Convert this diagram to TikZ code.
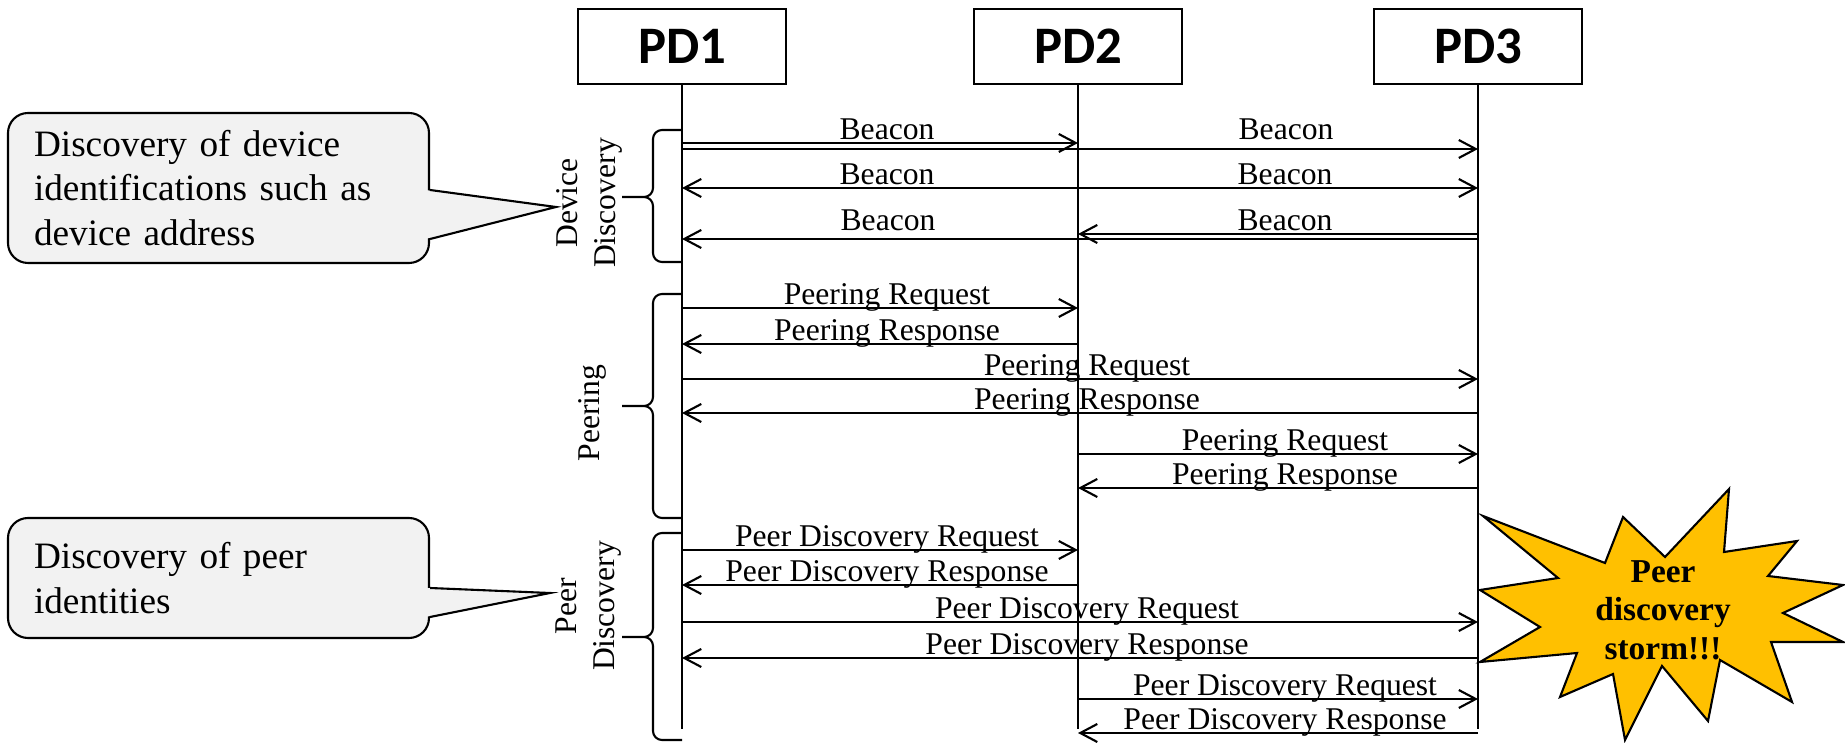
\documentclass[tikz,border=0pt]{standalone}
\usepackage{fontspec}
\setmainfont{Liberation Serif}
\newfontfamily\pdfont{Carlito}
\usetikzlibrary{positioning,arrows.meta,calc}
\definecolor{bullegris}{RGB}{242,242,242}
\definecolor{orage}{RGB}{255,192,0}
\tikzset{
  >={Straight Barb[length=1.7mm, width=1.8mm]},
  appareil/.style={draw, line width=0.65pt, fill=white, minimum width=2.08cm, minimum height=0.75cm,
    inner sep=0pt, font=\pdfont\fontsize{15}{18}\selectfont\bfseries},
  vie/.style={line width=0.6pt},
  fleche/.style={->, line width=0.6pt},
  etiquette/.style={anchor=base, inner sep=0pt, xshift=2pt, yshift=1pt, font=\fontsize{9}{10.8}\selectfont},
  phase/.style={rotate=90, align=center, inner sep=0pt, font=\fontsize{9}{10.8}\selectfont},
  accolade/.style={line width=0.6pt, rounded corners=0.09cm},
  bulle/.style={draw, line width=0.6pt, fill=bullegris, rounded corners=0.2cm, align=left,
    inner xsep=0.26cm, inner ysep=0pt, text width=3.69cm, font=\fontsize{10.6}{12.7}\selectfont},
  etoile/.style={draw, line width=0.6pt, fill=orage},
}

\begin{document}
\begin{tikzpicture}
    \useasboundingbox (0,0) rectangle (18.45,-7.43);
    % Appareils et lignes de vie
    \node[appareil] (pd1) at (6.82,-0.465)  {PD1};
    \node[appareil] (pd2) at (10.78,-0.465) {PD2};
    \node[appareil] (pd3) at (14.78,-0.465) {PD3};
    \coordinate (fin1) at (6.82,-7.29);
    \coordinate (fin2) at (10.78,-7.29);
    \coordinate (fin3) at (14.78,-7.29);
    \draw[vie] (pd1) -- (fin1);
    \draw[vie] (pd2) -- (fin2);
    \draw[vie] (pd3) -- (fin3);
    % Device Discovery
    \draw[fleche] (pd1 |- 0,-1.43) -- node[etiquette] {Beacon} (pd2 |- 0,-1.43);
    \draw[fleche] (pd1 |- 0,-1.49) -- node[etiquette, pos=0.75, yshift=1.6pt] {Beacon} (pd3 |- 0,-1.49);
    \draw[fleche] (pd2 |- 0,-1.88) -- node[etiquette] {Beacon} (pd1 |- 0,-1.88);
    \draw[fleche] (pd2 |- 0,-1.88) -- node[etiquette] {Beacon} (pd3 |- 0,-1.88);
    \draw[fleche] (pd3 |- 0,-2.34) -- node[etiquette] {Beacon} (pd2 |- 0,-2.34);
    \draw[fleche] (pd3 |- 0,-2.39) -- node[etiquette, pos=0.75, yshift=1.4pt] {Beacon} (pd1 |- 0,-2.39);
    % Peering
    \draw[fleche] (pd1 |- 0,-3.08) -- node[etiquette] {Peering Request} (pd2 |- 0,-3.08);
    \draw[fleche] (pd2 |- 0,-3.44) -- node[etiquette] {Peering Response} (pd1 |- 0,-3.44);
    \draw[fleche] (pd1 |- 0,-3.79) -- node[etiquette] {Peering Request} (pd3 |- 0,-3.79);
    \draw[fleche] (pd3 |- 0,-4.13) -- node[etiquette] {Peering Response} (pd1 |- 0,-4.13);
    \draw[fleche] (pd2 |- 0,-4.54) -- node[etiquette] {Peering Request} (pd3 |- 0,-4.54);
    \draw[fleche] (pd3 |- 0,-4.88) -- node[etiquette] {Peering Response} (pd2 |- 0,-4.88);
    % Peer Discovery
    \draw[fleche] (pd1 |- 0,-5.50) -- node[etiquette] {Peer Discovery Request} (pd2 |- 0,-5.50);
    \draw[fleche] (pd2 |- 0,-5.85) -- node[etiquette] {Peer Discovery Response} (pd1 |- 0,-5.85);
    \draw[fleche] (pd1 |- 0,-6.22) -- node[etiquette] {Peer Discovery Request} (pd3 |- 0,-6.22);
    \draw[fleche] (pd3 |- 0,-6.58) -- node[etiquette] {Peer Discovery Response} (pd1 |- 0,-6.58);
    \draw[fleche] (pd2 |- 0,-6.99) -- node[etiquette] {Peer Discovery Request} (pd3 |- 0,-6.99);
    \draw[fleche] (pd3 |- 0,-7.33) -- node[etiquette] {Peer Discovery Response} (pd2 |- 0,-7.33);
    % Accolades des phases
    \draw[accolade] (6.82,-1.30) -- (6.53,-1.30) -- (6.53,-1.97) -- (6.22,-1.97)
                    (6.22,-1.97) -- (6.53,-1.97) -- (6.53,-2.62) -- (6.82,-2.62);
    \draw[accolade] (6.82,-2.94) -- (6.53,-2.94) -- (6.53,-4.06) -- (6.22,-4.06)
                    (6.22,-4.06) -- (6.53,-4.06) -- (6.53,-5.18) -- (6.82,-5.18);
    \draw[accolade] (6.82,-5.33) -- (6.53,-5.33) -- (6.53,-6.37) -- (6.22,-6.37)
                    (6.22,-6.37) -- (6.53,-6.37) -- (6.53,-7.40) -- (6.82,-7.40);
    \node[phase] (devdisc)  at (5.89,-2.03) {Device\\Discovery};
    \node[phase] (peering)  at (5.92,-4.13) {Peering};
    \node[phase] (peerdisc) at (5.89,-6.06) {Peer\\Discovery};
    % Bulles
    \node[bulle, minimum height=1.50cm] (bulle1) at (2.185,-1.88)
      {Discovery of device\\identifications such as\\device address};
    \coordinate (pointe1) at (5.56,-2.07);
    \fill[bullegris] ($(bulle1.east |- 0,-1.90)+(-0.05,0)$) -- (pointe1) -- ($(bulle1.east |- 0,-2.39)+(-0.05,0)$) -- cycle;
    \draw[line width=0.6pt] (bulle1.east |- 0,-1.90) -- (pointe1) -- (bulle1.east |- 0,-2.39);
    \node[bulle, minimum height=1.20cm] (bulle2) at (2.185,-5.78)
      {Discovery of peer\\identities};
    \coordinate (pointe2) at (5.50,-5.93);
    \fill[bullegris] ($(bulle2.east |- 0,-5.88)+(-0.05,0)$) -- (pointe2) -- ($(bulle2.east |- 0,-6.17)+(-0.05,0)$) -- cycle;
    \draw[line width=0.6pt] (bulle2.east |- 0,-5.88) -- (pointe2) -- (bulle2.east |- 0,-6.17);
    % Tempete
    \draw[etoile] (14.83,-5.16) -- (16.05,-5.63) -- (16.23,-5.17) -- (16.65,-5.57) -- (17.29,-4.89)
      -- (17.24,-5.52) -- (17.97,-5.41) -- (17.68,-5.76) -- (18.43,-5.85) -- (17.83,-6.13)
      -- (18.43,-6.42) -- (17.71,-6.42) -- (17.92,-7.02) -- (17.20,-6.60) -- (17.08,-7.21)
      -- (16.62,-6.66) -- (16.25,-7.40) -- (16.13,-6.74) -- (15.60,-6.97) -- (15.77,-6.53)
      -- (14.80,-6.62) -- (15.40,-6.27) -- (14.80,-5.90) -- (15.58,-5.78) -- cycle;
    \node[align=center, inner sep=0pt, font=\fontsize{9.5}{11}\selectfont\bfseries] (tempete) at (16.63,-6.10)
      {Peer\\discovery\\storm!!!};
\end{tikzpicture}
\end{document}
